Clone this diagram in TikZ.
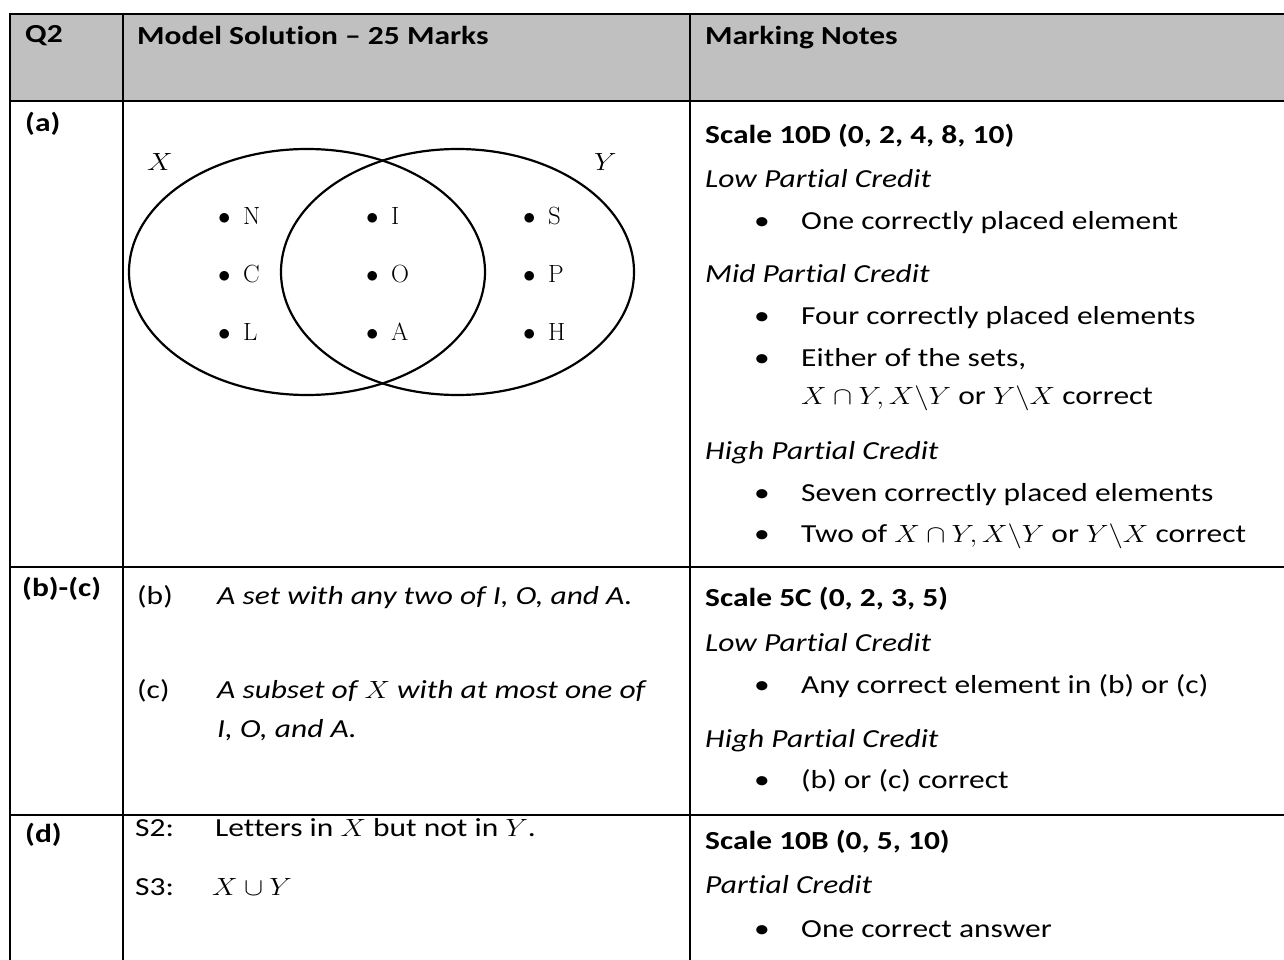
\documentclass[tikz,border=0pt]{standalone}
\usepackage[no-math]{fontspec}
\usepackage{graphicx}
\setmainfont{Carlito}[FakeStretch=1.21,Ligatures=NoCommon]
\usetikzlibrary{positioning}
\definecolor{header-gray}{gray}{0.753}
\tikzstyle{txt}=[anchor=base west,inner sep=0pt,font=\fontsize{26}{31}\selectfont]
\tikzstyle{headtxt}=[txt,font=\fontsize{26}{31}\selectfont\bfseries]
\tikzstyle{credit}=[txt,font=\fontsize{26}{31}\selectfont\itshape]
\tikzstyle{gridline}=[line width=2.8pt]
\tikzstyle{vennline}=[line width=2.2pt]
\tikzstyle{element}=[anchor=base west,inner sep=0pt,font=\fontsize{25}{30}\selectfont]
\newcommand{\wm}[1]{\scalebox{1.15}[1]{$#1$}}
\newcommand{\markitem}[3]{% name, baseline, text
	\node[txt] (#1-dot) at (754,#2) {\textbullet};
	\node[txt] (#1) at (801,#2) {#3};
}
\newcommand{\vennelem}[4]{% name, x, baseline, letter
	\node[element] (#1) at (#2,#3) {$\bullet\mkern9mu\mathrm{#4}$};
}

\begin{document}
\begin{tikzpicture}[x=1pt,y=-1pt]
\useasboundingbox (0,0) rectangle (1284,960);
% header row and grid
\fill[header-gray] (10,14) rectangle (1284,101);
\draw[gridline] (1284,14) -- (10,14) -- (10,960);
\draw[gridline] (10,101) -- (1284,101);
\draw[gridline] (10,567) -- (1284,567);
\draw[gridline] (10,815) -- (1284,815);
\draw[gridline] (123,14) -- (123,960);
\draw[gridline] (690,14) -- (690,960);
\node[headtxt] (q) at (25,43) {Q2};
\node[headtxt] (model) at (137,45) {Model Solution -- 25 Marks};
\node[headtxt] (notes) at (705,45) {Marking Notes};
% part (a): venn diagram
\node[headtxt] (parta) at (25,132) {(a)};
\draw[vennline] (307,272) ellipse [x radius=178,y radius=123];
\draw[vennline] (457.5,272) ellipse [x radius=176.5,y radius=123];
\node[element] (setx) at (147,171) {\wm{X}};
\node[element] (sety) at (594,171) {\wm{Y}};
\vennelem{n}{218}{224}{N}
\vennelem{c}{218}{282}{C}
\vennelem{l}{218}{340}{L}
\vennelem{i}{366}{224}{I}
\vennelem{o}{366}{282}{O}
\vennelem{a}{366}{340}{A}
\vennelem{s}{523}{224}{S}
\vennelem{p}{523}{282}{P}
\vennelem{h}{523}{340}{H}
% part (a): marking
\node[headtxt] (scalea) at (705,144) {Scale 10D (0, 2, 4, 8, 10)};
\node[credit] (lowa) at (705,187) {Low Partial Credit};
\markitem{one}{229}{One correctly placed element}
\node[credit] (mida) at (705,282) {Mid Partial Credit};
\markitem{four}{324}{Four correctly placed elements}
\markitem{either}{366}{Either of the sets,}
\node[txt] (sets) at (801,404) {\wm{X\cap Y, X\backslash Y} or \wm{Y\backslash X} correct};
\node[credit] (higha) at (705,459) {High Partial Credit};
\markitem{seven}{501}{Seven correctly placed elements}
\markitem{two}{542}{Two of \wm{X\cap Y, X\backslash Y} or \wm{Y\backslash X} correct}
% parts (b)-(c)
\node[headtxt] (partbc) at (22,596) {(b)-(c)};
\node[txt] (lb) at (137,604) {(b)};
\node[credit] (ansb) at (217,604) {A set with any two of I, O, and A.};
\node[txt] (lc) at (137,698) {(c)};
\node[credit] (ansc) at (217,698) {A subset of \wm{X} with at most one of};
\node[credit] (ansc2) at (217,737) {I, O, and A.};
\node[headtxt] (scalebc) at (705,606) {Scale 5C (0, 2, 3, 5)};
\node[credit] (lowbc) at (705,651) {Low Partial Credit};
\markitem{any}{693}{Any correct element in (b) or (c)}
\node[credit] (highbc) at (705,747) {High Partial Credit};
\markitem{bcorrect}{788}{(b) or (c) correct}
% part (d)
\node[headtxt] (partd) at (25,842) {(d)};
\node[txt] (ls2) at (135,836) {S2:};
\node[txt] (ans2) at (215,836) {Letters in \wm{X} but not in \wm{Y}.};
\node[txt] (ls3) at (135,895) {S3:};
\node[txt] (ans3) at (212,895) {\wm{X\cup Y}};
\node[headtxt] (scaled) at (705,849) {Scale 10B (0, 5, 10)};
\node[credit] (partial) at (705,893) {Partial Credit};
\markitem{answer}{937}{One correct answer}
\end{tikzpicture}
\end{document}
